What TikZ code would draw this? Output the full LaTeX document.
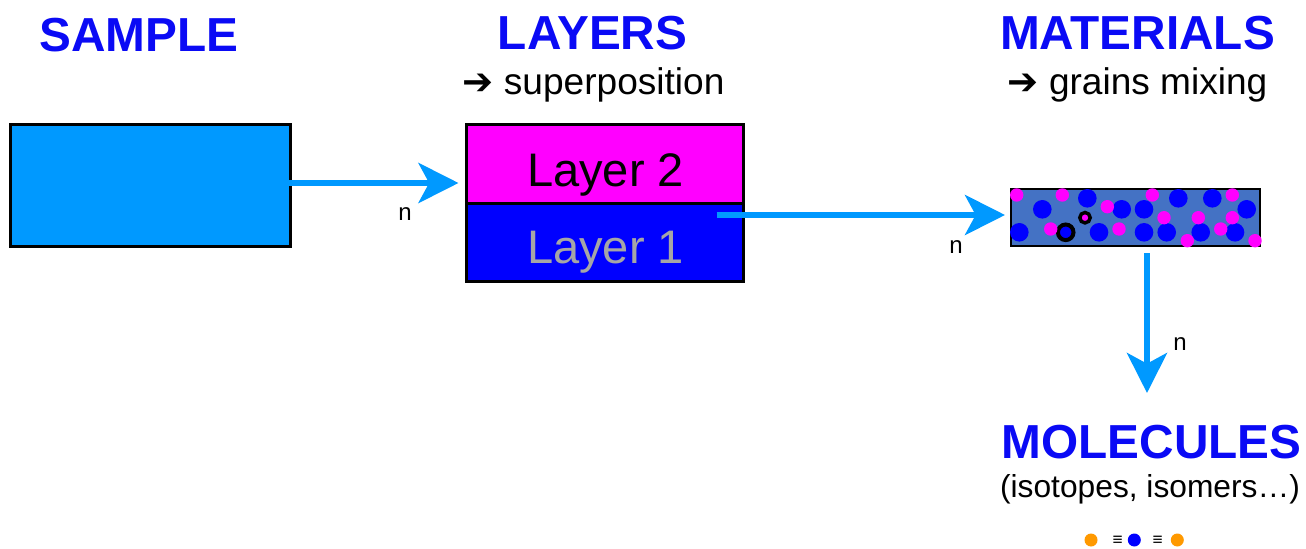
\documentclass[tikz,border=0pt]{standalone}
\usepackage{fontspec}
\setmainfont{Liberation Sans}
\newfontfamily\symfont{DejaVu Sans}
\usetikzlibrary{arrows.meta,calc}
\definecolor{skyblue}{HTML}{0099FF}
\definecolor{pureblue}{HTML}{0000FF}
\definecolor{titleblue}{HTML}{0A0AF5}
\definecolor{magentapink}{HTML}{FF00FF}
\definecolor{mixblue}{HTML}{4472C4}
\definecolor{lightgray}{HTML}{A6A6A6}
\definecolor{dotorange}{HTML}{FF9900}
\begin{document}
\begin{tikzpicture}[x=0.75pt,y=-0.75pt,
  bigtitle/.style={anchor=base,inner sep=0pt,text=titleblue,font=\fontsize{35.8}{40}\selectfont\bfseries},
  subtitle/.style={anchor=base,inner sep=0pt,font=\fontsize{27.8}{32}\selectfont},
  layertext/.style={anchor=base,inner sep=0pt,font=\fontsize{35.3}{40}\selectfont},
  flowarrow/.style={draw=skyblue,line width=4.5pt,-{Stealth[length=30pt,width=30pt,inset=8pt]}},
  nlabel/.style={anchor=base,inner sep=0pt,font=\fontsize{18}{20}\selectfont},
  blockbox/.style={draw=black,line width=2.25pt,inner sep=0pt,minimum width=#1},
  bluegrain/.style={fill=pureblue},
  pinkgrain/.style={fill=magentapink},
  dot/.style={circle,inner sep=0pt,minimum size=9.75pt},
  equiv/.style={inner sep=0pt,font=\fontsize{13}{14}\selectfont},
]
\useasboundingbox[fill=white] (0,0) rectangle (1306,549);

% titles
\node[bigtitle] (tsample) at (139,52) {SAMPLE};
\node[bigtitle] (tlayers) at (592.5,50) {LAYERS};
\node[subtitle] (slayers) at (593.5,95) {{\symfont\bfseries ➔} superposition};
\node[bigtitle] (tmaterials) at (1137.5,50) {MATERIALS};
\node[subtitle] (smaterials) at (1137.5,95) {{\symfont\bfseries ➔} grains mixing};
\node[bigtitle] (tmolecules) at (1151.5,458) {MOLECULES};
\node[anchor=base,inner sep=0pt,font=\fontsize{23.8}{28}\selectfont] (smolecules) at (1150,497) {(isotopes, isomers…)};

% sample block
\node[blockbox=210pt,minimum height=90.75pt,fill=skyblue] (sample) at (150,185.5) {};

% layer stack
\node[blockbox=207.75pt,minimum height=58.5pt,fill=magentapink] (layer2) at (604.5,164) {};
\node[blockbox=207.75pt,minimum height=58.5pt,fill=pureblue] (layer1) at (604.5,242) {};
\node[layertext] (l2text) at (605.5,186) {Layer 2};
\node[layertext,text=lightgray] (l1text) at (605.5,263) {Layer 1};

% material block with mixed grains
\node[draw=black,line width=1.5pt,fill=mixblue,inner sep=0pt,minimum width=186.75pt,minimum height=42.75pt] (material) at (1135.5,217.5) {};
\foreach \x/\y in {1042.3/209.3,1087.3/198.3,1121.7/209.3,1144/209.3,1178.3/198.3,1212.3/198.3,1246.7/209.3,
                   1019.3/232.3,1099/232.3,1144/232.3,1166.7/232.3,1200.7/232.3,1235/232.3}
  \fill[bluegrain] (\x,\y) circle[radius=9.3];
\draw[black,line width=3pt,bluegrain] (1065.7,232.3) circle[radius=7.8];
\foreach \x/\y in {1016.7/195,1062.3/195,1107.3/206.7,1152.3/195,1232.3/195,1164/217.7,1198.3/217.7,1232.3/217.7,
                   1050.7/229,1119/229,1220.7/229,1187.3/240.7,1255/240.7}
  \fill[pinkgrain] (\x,\y) circle[radius=6.7];
\draw[black,line width=2.6pt,pinkgrain] (1085,217.7) circle[radius=5.2];

% connectors
\draw[flowarrow] ($(sample.east)+(-8,-2.5)$) -- ($(layer2.west)+(-6,19)$);
\node[nlabel] (n1) at (405,220) {n};
\draw[flowarrow] ($(layer1.east)+(-28,-27)$) -- ($(material.west)+(-5,-2.5)$);
\node[nlabel] (n2) at (956,253) {n};
\draw[flowarrow] ($(material.south)+(11.5,6)$) -- ($(material.south)+(11.5,146)$);
\node[nlabel] (n3) at (1180,350) {n};

% isotope equivalence
\node[dot,fill=dotorange] (o1) at (1091,540) {};
\node[equiv] (eq1) at (1117.7,541) {≡};
\node[dot,fill=pureblue] (b1) at (1134.3,540) {};
\node[equiv] (eq2) at (1157.7,541) {≡};
\node[dot,fill=dotorange] (o2) at (1177.3,540) {};
\end{tikzpicture}
\end{document}
